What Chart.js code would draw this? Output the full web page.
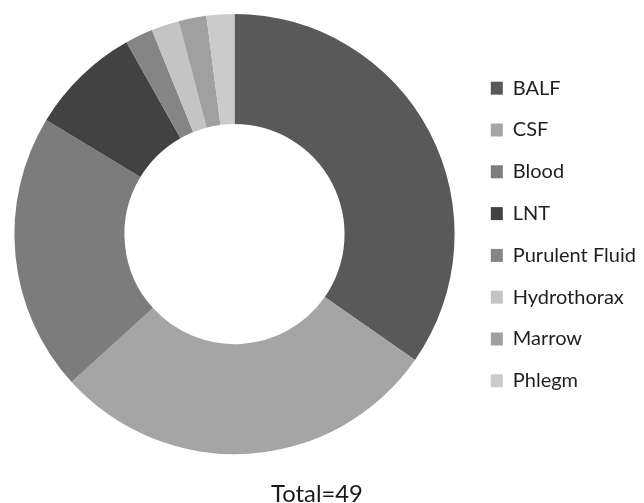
<!DOCTYPE html>
<html>
<head>
<meta charset="utf-8">
<script src="https://cdn.jsdelivr.net/npm/chart.js@4"></script>
<style>
  html, body { margin: 0; padding: 0; background: #fff; }
  #wrap { position: relative; width: 644px; height: 503px; }
</style>
</head>
<body>
<div id="wrap"><canvas id="chart"></canvas></div>
<script>
// specimen counts by sample type
const sampleTypes = ["BALF", "CSF", "Blood", "LNT", "Purulent Fluid", "Hydrothorax", "Marrow", "Phlegm"]
const sampleCounts = [17, 14, 10, 4, 1, 1, 1, 1]
const sliceColors = ["#595959", "#a5a5a5", "#7c7c7c", "#424242", "#858585", "#c4c4c4", "#a0a0a0", "#cbcbcb"]
const totalLabel = "Total=" + sampleCounts.reduce((a, b) => a + b, 0)

const LEGEND_WIDTH = 175
const LEGEND_SHIFT_Y = -24

// the legend text is allowed to run up to the canvas edge, like the original
const legendTweak = {
  id: "legendTweak",
  beforeInit(chart) {
    const fit = chart.legend.fit
    chart.legend.fit = function () {
      fit.call(this)
      this.width = LEGEND_WIDTH
    }
  },
  afterLayout(chart) {
    chart.legend.top += LEGEND_SHIFT_Y
    chart.legend.bottom += LEGEND_SHIFT_Y
  },
}

new Chart(document.getElementById("chart"), {
  type: "doughnut",
  data: {
    labels: sampleTypes,
    datasets: [
      {
        data: sampleCounts,
        backgroundColor: sliceColors,
        borderWidth: 0,
      },
    ],
  },
  options: {
    responsive: true,
    maintainAspectRatio: false,
    cutout: "50%",
    animation: false,
    layout: { padding: { top: 14, left: -10, right: 0, bottom: 0 } },
    plugins: {
      legend: {
        position: "right",
        align: "center",
        labels: {
          boxWidth: 12,
          boxHeight: 13,
          padding: 21.8,
          color: "#1f1f1f",
          font: { family: "Lato, 'Noto Sans', sans-serif", size: 20 },
        },
      },
      title: {
        display: true,
        position: "bottom",
        text: totalLabel,
        color: "#1a1a1a",
        padding: { top: 28, bottom: -3 },
        font: { family: "Lato, 'Noto Sans', sans-serif", size: 23.8, weight: "normal", lineHeight: 1 },
      },
      tooltip: { enabled: false },
    },
  },
  plugins: [legendTweak],
})
</script>
</body>
</html>
